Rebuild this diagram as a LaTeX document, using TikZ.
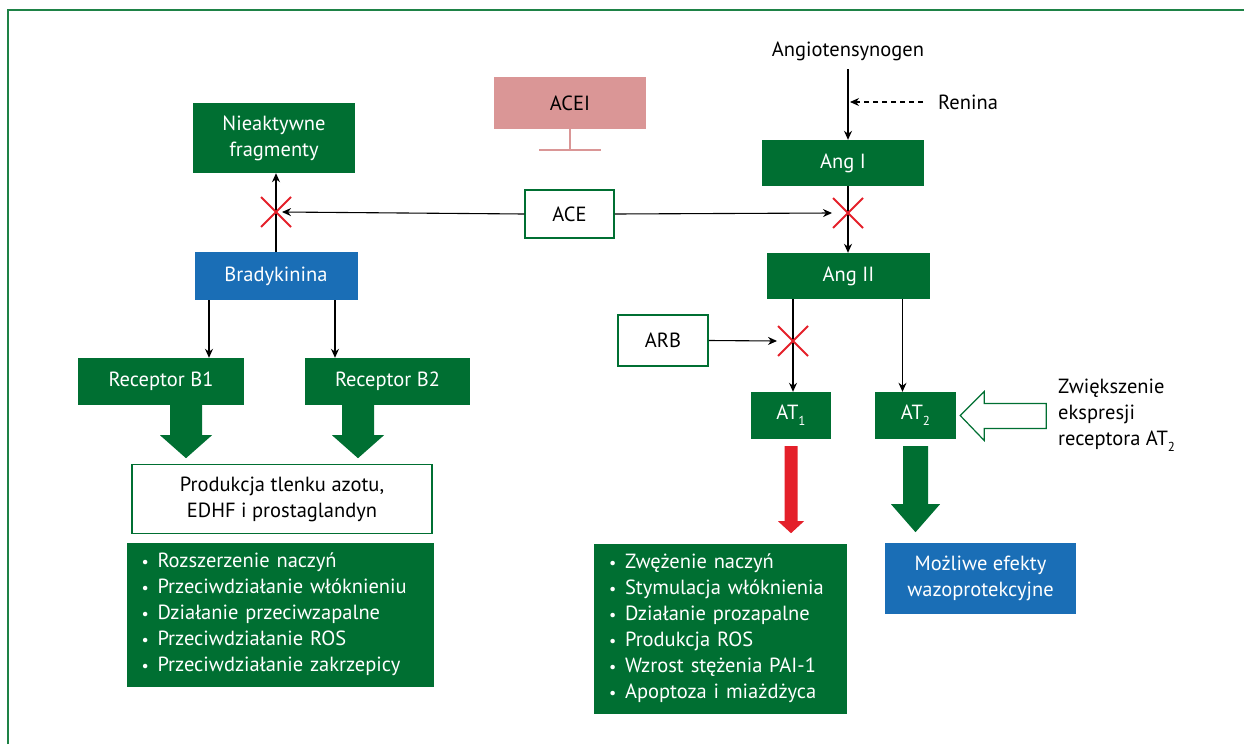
\documentclass[tikz,border=0pt]{standalone}
\usepackage{fontspec}
\setmainfont{PT Sans}
\usepackage{xcolor}
\usepackage{tikz}
\usetikzlibrary{shapes,arrows,positioning,calc,arrows.meta}

\definecolor{dkgreen}{RGB}{0,111,50}
\definecolor{bblue}{RGB}{26,110,182}
\definecolor{pinkish}{RGB}{218,150,150}
\definecolor{xred}{RGB}{228,32,42}
\definecolor{framegreen}{RGB}{30,130,70}
\newcommand{\lowsub}[1]{\raisebox{-0.3em}{\fontsize{13}{13}\selectfont #1}}
\newcommand{\bul}{\makebox[18pt][l]{\hspace{2pt}\fontsize{16}{16}\selectfont\textbullet}}

\begin{document}
\begin{tikzpicture}[x=1pt, y=-1pt, font=\fontsize{20.5}{26}\selectfont,
    gbox/.style={rectangle, fill=dkgreen, text=white, align=center, inner sep=0pt},
    bbox/.style={rectangle, fill=bblue, text=white, align=center, inner sep=0pt},
    wbox/.style={rectangle, draw=dkgreen, line width=1.5pt, fill=white, align=center, inner sep=0pt},
    lbl/.style={inner sep=0pt, text=black},
    arr/.style={-{Stealth[length=9pt, width=8pt]}, line width=1.1pt},
    xmark/.style={cross out, draw=xred, line width=2pt, minimum size=28pt, inner sep=0pt}]
    \useasboundingbox (0,0) rectangle (1244,744);
    \draw [framegreen, line width=1.5pt] (8,744) -- (8,10) -- (1244,10);

    % Bradykinin side
    \node [gbox, minimum width=162pt, minimum height=70pt] (nieakt) at (274,138) {Nieaktywne\\fragmenty};
    \node [bbox, minimum width=163pt, minimum height=48pt] (bradyk) at (276,276) {Bradykinina};
    \node [gbox, minimum width=166pt, minimum height=47pt] (recb1) at (161,381.5) {Receptor B1};
    \node [gbox, minimum width=165pt, minimum height=47pt] (recb2) at (387.5,381.5) {Receptor B2};
    \node [wbox, minimum width=300pt, minimum height=69pt] (prod) at (282,499) {Produkcja tlenku azotu,\\EDHF i prostaglandyn};
    \node [gbox, minimum width=307pt, minimum height=144pt, text width=281pt, inner xsep=13pt, align=left] (leftlist) at (280,614.5) {
        \bul Rozszerzenie naczyń\\
        \bul Przeciwdziałanie włóknieniu\\
        \bul Działanie przeciwzapalne\\
        \bul Przeciwdziałanie ROS\\
        \bul Przeciwdziałanie zakrzepicy};

    % ACE and its inhibitor
    \node [rectangle, fill=pinkish, text=black, minimum width=152pt, minimum height=52pt] (acei) at (570,103) {ACEI};
    \draw [pinkish, line width=2pt] (acei.south) -- ++(0,21) ++(-31,0) -- ++(62,0);
    \node [wbox, minimum width=89pt, minimum height=48pt] (ace) at (569.5,214) {ACE};

    % Angiotensin side
    \node [lbl] (angio) at (848,51) {Angiotensynogen};
    \node [lbl, anchor=west] (renina) at (938,102) {Renina};
    \node [gbox, minimum width=162pt, minimum height=46pt] (angI) at (843,163) {Ang I};
    \node [gbox, minimum width=163pt, minimum height=46pt] (angII) at (848.5,276) {Ang II};
    \node [wbox, minimum width=90pt, minimum height=51pt] (arb) at (663,340.5) {ARB};
    \node [gbox, minimum width=80pt, minimum height=47pt] (at1) at (791,415.5) {AT\lowsub{1}};
    \node [gbox, minimum width=81pt, minimum height=47pt] (at2) at (915.5,415.5) {AT\lowsub{2}};
    \node [lbl, anchor=west, align=left] (zwiek) at (1058,415) {Zwiększenie\\ekspresji\\receptora AT\lowsub{2}};
    \node [gbox, minimum width=253pt, minimum height=170pt, text width=227pt, inner xsep=13pt, align=left] (rightlist) at (720.5,628.5) {
        \bul Zwężenie naczyń\\
        \bul Stymulacja włóknienia\\
        \bul Działanie prozapalne\\
        \bul Produkcja ROS\\
        \bul Wzrost stężenia PAI-1\\
        \bul Apoptoza i miażdżyca};
    \node [bbox, minimum width=191pt, minimum height=71pt] (mozliwe) at (980.5,578.5) {Możliwe efekty\\wazoprotekcyjne};

    % blocked points
    \coordinate (xa) at (276,212);
    \coordinate (xb) at (848,213);
    \coordinate (xc) at (793,341);

    % connectors
    \draw [arr] (bradyk.north -| xa) -- (nieakt.south -| xa);
    \draw [arr] (ace.west) -- ([xshift=6pt]xa);
    \draw [arr] (ace.east) -- ([xshift=-16pt]xb);
    \draw [arr] ([xshift=-67pt]bradyk.south) -- ([xshift=-67pt]bradyk.south |- recb1.north);
    \draw [arr] ([xshift=59pt]bradyk.south) -- ([xshift=59pt]bradyk.south |- recb2.north);
    \draw [arr] (angio.south |- 0,69) -- (angio.south |- angI.north);
    \draw [arr, dash pattern=on 5pt off 4pt] ([xshift=-15pt]renina.west) -- ([xshift=2pt]renina.west -| angio.south);
    \draw [arr] (angI.south -| xb) -- (angII.north -| xb);
    \draw [arr] (angII.south -| xc) -- (at1.north -| xc);
    \draw [arr] ([xshift=54pt]angII.south) -- ([xshift=54pt]angII.south |- at2.north);
    \draw [arr] (arb.east) -- ([xshift=-16pt]xc);

    \node [xmark] (crossa) at (xa) {};
    \node [xmark] (crossb) at (xb) {};
    \node [xmark] (crossc) at (xc) {};

    % block arrows
    \fill [dkgreen] ([xshift=25pt]recb1.south) ++(-16,0) -- ++(0,30) -- ++(-10,0) -- ++(26,23) -- ++(26,-23) -- ++(-10,0) -- ++(0,-30) -- cycle;
    \fill [dkgreen] ([xshift=-29.5pt]recb2.south) ++(-16,0) -- ++(0,30) -- ++(-10,0) -- ++(26,23) -- ++(26,-23) -- ++(-10,0) -- ++(0,-30) -- cycle;
    \fill [xred] (at1.south) ++(-6.5,7) -- ++(0,75) -- ++(-6.5,0) -- ++(13,12) -- ++(13,-12) -- ++(-6.5,0) -- ++(0,-75) -- cycle;
    \fill [dkgreen] (at2.south) ++(-12.5,7) -- ++(0,58) -- ++(-12,0) -- ++(24.5,28) -- ++(24.5,-28) -- ++(-12,0) -- ++(0,-58) -- cycle;
    \draw [dkgreen, line width=1.2pt, fill=white] ([xshift=4pt]at2.east) -- ++(24,-24) -- ++(0,12) -- ++(62,0) -- ++(0,25) -- ++(-62,0) -- ++(0,12) -- cycle;
\end{tikzpicture}
\end{document}
